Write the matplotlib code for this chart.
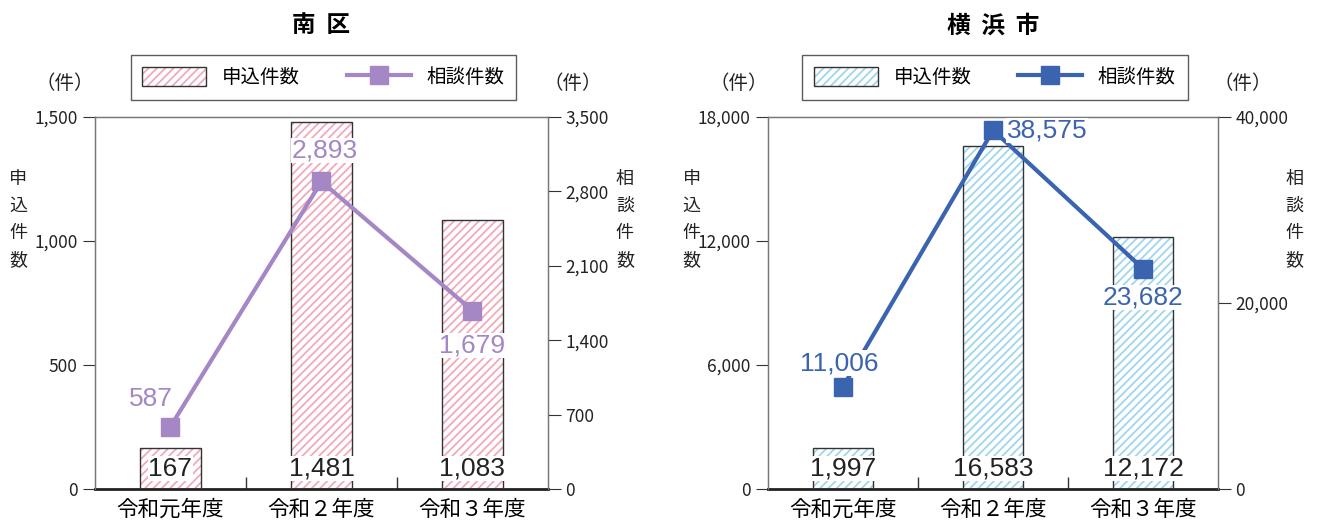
import matplotlib.pyplot as plt
from matplotlib.patches import Patch
from matplotlib.lines import Line2D
from matplotlib.ticker import StrMethodFormatter

plt.rcParams['font.family'] = ['Noto Sans CJK JP', 'DejaVu Sans']
plt.rcParams['hatch.linewidth'] = 1.3

# データ
years = ['令和元年度', '令和２年度', '令和３年度']
minami_apply = [167, 1481, 1083]
minami_consult = [587, 2893, 1679]
yokohama_apply = [1997, 16583, 12172]
yokohama_consult = [11006, 38575, 23682]

NUM_FONT = ['Liberation Sans', 'DejaVu Sans']


def draw_panel(fig, rect, title, apply, consult, hatch_color, line_color,
               left_max, left_ticks, right_max, right_ticks, label_offsets):
    ax = fig.add_axes(rect)
    x = range(len(years))
    # 斜線の棒と枠線を別々に描く
    ax.bar(x, apply, width=0.4, color='white', edgecolor=hatch_color,
           hatch='////', linewidth=0, zorder=2)
    ax.bar(x, apply, width=0.4, fill=False, edgecolor='#333333',
           linewidth=1.0, zorder=3)
    for i, v in enumerate(apply):
        ax.text(i, left_max * 0.054, f'{v:,}', ha='center', va='center',
                fontsize=19, color='#222222', zorder=6, family=NUM_FONT,
                bbox=dict(boxstyle='square,pad=0.02', fc='white', ec='none'))

    ax.set_xlim(-0.5, 2.5)
    ax.set_ylim(0, left_max)
    ax.set_yticks(left_ticks)
    ax.yaxis.set_major_formatter(StrMethodFormatter('{x:,.0f}'))
    ax.set_xticks(list(x))
    ax.set_xticklabels(years, fontsize=15.5)
    ax.set_xticks([0.5, 1.5], minor=True)
    ax.tick_params(axis='x', which='major', length=0, pad=7)
    ax.tick_params(axis='x', which='minor', direction='in', length=9,
                   width=1.0, color='#333333')
    ax.tick_params(axis='y', direction='out', length=9, labelsize=12.5,
                   color='#333333', labelcolor='#222222')
    for s in ['left', 'right', 'top']:
        ax.spines[s].set_color('#777777')
        ax.spines[s].set_linewidth(1.0)
    ax.spines['bottom'].set_linewidth(2.0)
    ax.spines['bottom'].set_color('#222222')

    ax2 = ax.twinx()
    ax2.plot(x, consult, color=line_color, linewidth=3, marker='s',
             markersize=12.5, zorder=4)
    for i, v in enumerate(consult):
        dx, dy = label_offsets[i]
        ax2.annotate(f'{v:,}', (i, v), xytext=(dx, dy),
                     textcoords='offset points', ha='center', va='center',
                     fontsize=19, color=line_color, zorder=6, family=NUM_FONT,
                     bbox=dict(boxstyle='square,pad=0.02', fc='white',
                               ec='none'))
    ax2.set_ylim(0, right_max)
    ax2.set_yticks(right_ticks)
    ax2.yaxis.set_major_formatter(StrMethodFormatter('{x:,.0f}'))
    ax2.tick_params(axis='y', direction='out', length=9, labelsize=12.5,
                    color='#333333', labelcolor='#222222')
    for s in ['left', 'right', 'top']:
        ax2.spines[s].set_color('#777777')
    ax2.spines['bottom'].set_visible(False)

    # 線を棒より前に出す
    ax.set_zorder(0)
    ax2.set_zorder(1)
    ax2.patch.set_visible(False)

    ax.set_title(title, fontsize=17, fontweight='bold', pad=61)

    h_bar = (Patch(facecolor='white', edgecolor=hatch_color, hatch='////',
                   linewidth=0),
             Patch(fill=False, edgecolor='#333333', linewidth=1.0))
    h_line = Line2D([], [], color=line_color, linewidth=3, marker='s',
                    markersize=12.5)
    leg = ax.legend([h_bar, h_line], ['申込件数', '相談件数'], ncol=2,
                    loc='center', bbox_to_anchor=(0.504, 1.106), fontsize=14,
                    frameon=True, fancybox=False, edgecolor='#333333',
                    handlelength=3.3, handleheight=1.1, columnspacing=2.4,
                    borderpad=0.6, handletextpad=0.8, borderaxespad=0)
    leg.get_frame().set_linewidth(1.0)

    ax.text(-0.066, 1.09, '（件）', transform=ax.transAxes, ha='center',
            va='center', fontsize=14, color='#222222')
    ax.text(1.055, 1.09, '（件）', transform=ax.transAxes, ha='center',
            va='center', fontsize=14, color='#222222')
    ax.text(-0.17, 0.725, '申\n込\n件\n数', transform=ax.transAxes,
            ha='center', va='center', fontsize=13, linespacing=1.65,
            color='#222222')
    ax.text(1.17, 0.725, '相\n談\n件\n数', transform=ax.transAxes,
            ha='center', va='center', fontsize=13, linespacing=1.65,
            color='#222222')
    return ax, ax2


fig = plt.figure(figsize=(13.19, 5.24), dpi=100)

draw_panel(fig, [0.072, 0.0668, 0.3434, 0.710], '南  区',
           minami_apply, minami_consult, '#f4a9ba', '#a487c4',
           1500, [0, 500, 1000, 1500], 3500,
           [0, 700, 1400, 2100, 2800, 3500],
           [(-14, 20), (2, 22), (0, -25)])

draw_panel(fig, [0.5823, 0.0668, 0.3412, 0.710], '横  浜  市',
           yokohama_apply, yokohama_consult, '#9fd6ee', '#3a63b0',
           18000, [0, 6000, 12000, 18000], 40000,
           [0, 20000, 40000],
           [(-3, 17), (39, 0), (0, -21)])

fig.savefig('out.png', dpi=100)
